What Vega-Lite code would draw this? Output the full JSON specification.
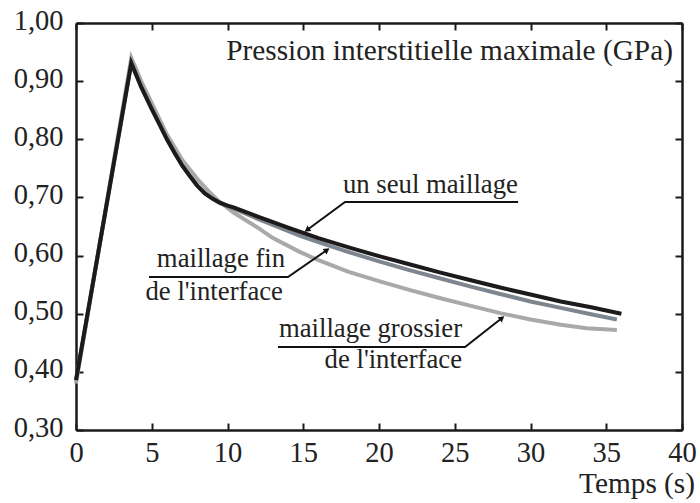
{
  "$schema": "https://vega.github.io/schema/vega-lite/v6.json",
  "width": 606,
  "height": 407,
  "autosize": {"type": "none"},
  "padding": {"left": 76, "top": 23, "right": 18, "bottom": 73},
  "background": "white",
  "config": {
    "view": {"stroke": null},
    "font": "Liberation Serif",
    "axis": {
      "domainColor": "#1a1a1a",
      "domainWidth": 2.5,
      "tickColor": "#1a1a1a",
      "tickWidth": 2,
      "tickSize": -7,
      "labelFont": "Liberation Serif",
      "labelFontSize": 28.5,
      "labelColor": "#222222",
      "grid": false,
      "title": null,
      "labelFlush": false,
      "labelOverlap": false
    }
  },
  "datasets": {
    "seul": [
      {"t": 0, "p": 0.386}, {"t": 3.65, "p": 0.931}, {"t": 4.3, "p": 0.89}, {"t": 5, "p": 0.852},
      {"t": 5.5, "p": 0.826}, {"t": 6, "p": 0.8}, {"t": 6.5, "p": 0.777}, {"t": 7, "p": 0.755},
      {"t": 7.5, "p": 0.737}, {"t": 8, "p": 0.72}, {"t": 8.5, "p": 0.707}, {"t": 9, "p": 0.698},
      {"t": 9.5, "p": 0.691}, {"t": 10, "p": 0.686}, {"t": 10.4, "p": 0.683}, {"t": 12, "p": 0.667},
      {"t": 14, "p": 0.648}, {"t": 16, "p": 0.63}, {"t": 18, "p": 0.614}, {"t": 20, "p": 0.599},
      {"t": 22, "p": 0.585}, {"t": 24, "p": 0.571}, {"t": 26, "p": 0.558}, {"t": 28, "p": 0.545},
      {"t": 30, "p": 0.533}, {"t": 32, "p": 0.521}, {"t": 34, "p": 0.511}, {"t": 36, "p": 0.5}
    ],
    "fin": [
      {"t": 0, "p": 0.385}, {"t": 3.65, "p": 0.932}, {"t": 4.3, "p": 0.891}, {"t": 5, "p": 0.853},
      {"t": 5.5, "p": 0.827}, {"t": 6, "p": 0.801}, {"t": 6.5, "p": 0.778}, {"t": 7, "p": 0.756},
      {"t": 7.5, "p": 0.738}, {"t": 8, "p": 0.721}, {"t": 8.5, "p": 0.708}, {"t": 9, "p": 0.698},
      {"t": 9.5, "p": 0.69}, {"t": 10, "p": 0.685}, {"t": 10.4, "p": 0.681}, {"t": 12, "p": 0.663},
      {"t": 14.8, "p": 0.634}, {"t": 16, "p": 0.623}, {"t": 18, "p": 0.606}, {"t": 20, "p": 0.59},
      {"t": 22, "p": 0.575}, {"t": 24, "p": 0.561}, {"t": 26, "p": 0.547}, {"t": 28, "p": 0.534},
      {"t": 30, "p": 0.521}, {"t": 32, "p": 0.51}, {"t": 34, "p": 0.499}, {"t": 35.7, "p": 0.49}
    ],
    "grossier": [
      {"t": 0, "p": 0.38}, {"t": 3.65, "p": 0.94}, {"t": 4.3, "p": 0.9}, {"t": 5, "p": 0.862},
      {"t": 6, "p": 0.808}, {"t": 7, "p": 0.765}, {"t": 8, "p": 0.732}, {"t": 8.85, "p": 0.708},
      {"t": 9.5, "p": 0.692}, {"t": 10.4, "p": 0.674}, {"t": 12, "p": 0.648}, {"t": 13, "p": 0.63},
      {"t": 14.8, "p": 0.606}, {"t": 16, "p": 0.592}, {"t": 18, "p": 0.572}, {"t": 20, "p": 0.556},
      {"t": 22, "p": 0.541}, {"t": 24, "p": 0.527}, {"t": 26, "p": 0.514}, {"t": 28, "p": 0.501},
      {"t": 30, "p": 0.49}, {"t": 32, "p": 0.481}, {"t": 33.7, "p": 0.475}, {"t": 35.7, "p": 0.472}
    ],
    "leaders": [
      {"a": "seul", "o": 1, "t": 29.18, "p": 0.6921}, {"a": "seul", "o": 2, "t": 17.76, "p": 0.6921}, {"a": "seul", "o": 3, "t": 15.25, "p": 0.644},
      {"a": "fin", "o": 1, "t": 4.82, "p": 0.5631}, {"a": "fin", "o": 2, "t": 13.99, "p": 0.5631}, {"a": "fin", "o": 3, "t": 16.57, "p": 0.6096},
      {"a": "gros", "o": 1, "t": 13.33, "p": 0.4427}, {"a": "gros", "o": 2, "t": 25.68, "p": 0.4427}, {"a": "gros", "o": 3, "t": 28.12, "p": 0.4926}
    ],
    "tips": [
      {"a": "seul", "t": 15.25, "p": 0.644},
      {"a": "fin", "t": 16.57, "p": 0.6096},
      {"a": "gros", "t": 28.12, "p": 0.4926}
    ],
    "titles": [
      {"label": "Pression interstitielle maximale (GPa)", "t": 39.4, "p": 0.9364},
      {"label": "Temps (s)", "t": 40.86, "p": 0.1916}
    ],
    "textsLeft": [
      {"label": "un seul maillage", "t": 17.62, "p": 0.7076}
    ],
    "textsRight": [
      {"label": "maillage fin", "t": 13.8, "p": 0.5803},
      {"label": "de l'interface", "t": 13.66, "p": 0.5236},
      {"label": "maillage grossier", "t": 25.48, "p": 0.4599},
      {"label": "de l'interface", "t": 25.48, "p": 0.4066}
    ]
  },
  "layer": [
    {
      "data": {"name": "grossier"},
      "mark": {"type": "line", "color": "#a9a9a9", "strokeWidth": 4},
      "encoding": {
        "x": {"field": "t", "type": "quantitative", "scale": {"domain": [0, 40], "nice": false, "zero": false},
              "axis": {"orient": "bottom", "values": [0, 5, 10, 15, 20, 25, 30, 35, 40], "labelPadding": 15}},
        "y": {"field": "p", "type": "quantitative", "scale": {"domain": [0.3, 1.0], "nice": false, "zero": false},
              "axis": {"orient": "left", "values": [0.3, 0.4, 0.5, 0.6, 0.7, 0.8, 0.9, 1.0], "labelPadding": 20, "labelOffset": -3,
                       "labelExpr": "replace(format(datum.value, '.2f'), '.', ',')"}}
      }
    },
    {
      "data": {"name": "fin"},
      "mark": {"type": "line", "color": "#7d868e", "strokeWidth": 4},
      "encoding": {
        "x": {"field": "t", "type": "quantitative", "axis": null},
        "y": {"field": "p", "type": "quantitative", "axis": null}
      }
    },
    {
      "data": {"name": "seul"},
      "mark": {"type": "line", "color": "#1c1a1b", "strokeWidth": 4},
      "encoding": {
        "x": {"field": "t", "type": "quantitative",
              "axis": {"orient": "top", "values": [0, 5, 10, 15, 20, 25, 30, 35, 40], "labels": false}},
        "y": {"field": "p", "type": "quantitative",
              "axis": {"orient": "right", "values": [0.3, 0.4, 0.5, 0.6, 0.7, 0.8, 0.9, 1.0], "labels": false}}
      }
    },
    {
      "data": {"name": "leaders"},
      "mark": {"type": "line", "color": "#111111", "strokeWidth": 2},
      "encoding": {
        "x": {"field": "t", "type": "quantitative", "axis": null},
        "y": {"field": "p", "type": "quantitative", "axis": null},
        "detail": {"field": "a"},
        "order": {"field": "o", "type": "quantitative"}
      }
    },
    {
      "data": {"name": "tips"},
      "transform": [{"filter": "datum.a == 'seul'"}],
      "mark": {"type": "point", "shape": "triangle-up", "filled": true, "color": "#111111", "size": 45, "angle": 233.6, "opacity": 1},
      "encoding": {
        "x": {"field": "t", "type": "quantitative", "axis": null},
        "y": {"field": "p", "type": "quantitative", "axis": null}
      }
    },
    {
      "data": {"name": "tips"},
      "transform": [{"filter": "datum.a == 'fin'"}],
      "mark": {"type": "point", "shape": "triangle-up", "filled": true, "color": "#111111", "size": 45, "angle": 55.3, "opacity": 1},
      "encoding": {
        "x": {"field": "t", "type": "quantitative", "axis": null},
        "y": {"field": "p", "type": "quantitative", "axis": null}
      }
    },
    {
      "data": {"name": "tips"},
      "transform": [{"filter": "datum.a == 'gros'"}],
      "mark": {"type": "point", "shape": "triangle-up", "filled": true, "color": "#111111", "size": 45, "angle": 51.9, "opacity": 1},
      "encoding": {
        "x": {"field": "t", "type": "quantitative", "axis": null},
        "y": {"field": "p", "type": "quantitative", "axis": null}
      }
    },
    {
      "data": {"name": "titles"},
      "mark": {"type": "text", "align": "right", "baseline": "alphabetic", "font": "Liberation Serif", "fontSize": 29.3, "color": "#222222"},
      "encoding": {
        "x": {"field": "t", "type": "quantitative", "axis": null},
        "y": {"field": "p", "type": "quantitative", "axis": null},
        "text": {"field": "label"}
      }
    },
    {
      "data": {"name": "textsLeft"},
      "mark": {"type": "text", "align": "left", "baseline": "alphabetic", "font": "Liberation Serif", "fontSize": 26.7, "color": "#222222"},
      "encoding": {
        "x": {"field": "t", "type": "quantitative", "axis": null},
        "y": {"field": "p", "type": "quantitative", "axis": null},
        "text": {"field": "label"}
      }
    },
    {
      "data": {"name": "textsRight"},
      "mark": {"type": "text", "align": "right", "baseline": "alphabetic", "font": "Liberation Serif", "fontSize": 26.7, "color": "#222222"},
      "encoding": {
        "x": {"field": "t", "type": "quantitative", "axis": null},
        "y": {"field": "p", "type": "quantitative", "axis": null},
        "text": {"field": "label"}
      }
    }
  ],
  "resolve": {"axis": {"x": "independent", "y": "independent"}}
}
